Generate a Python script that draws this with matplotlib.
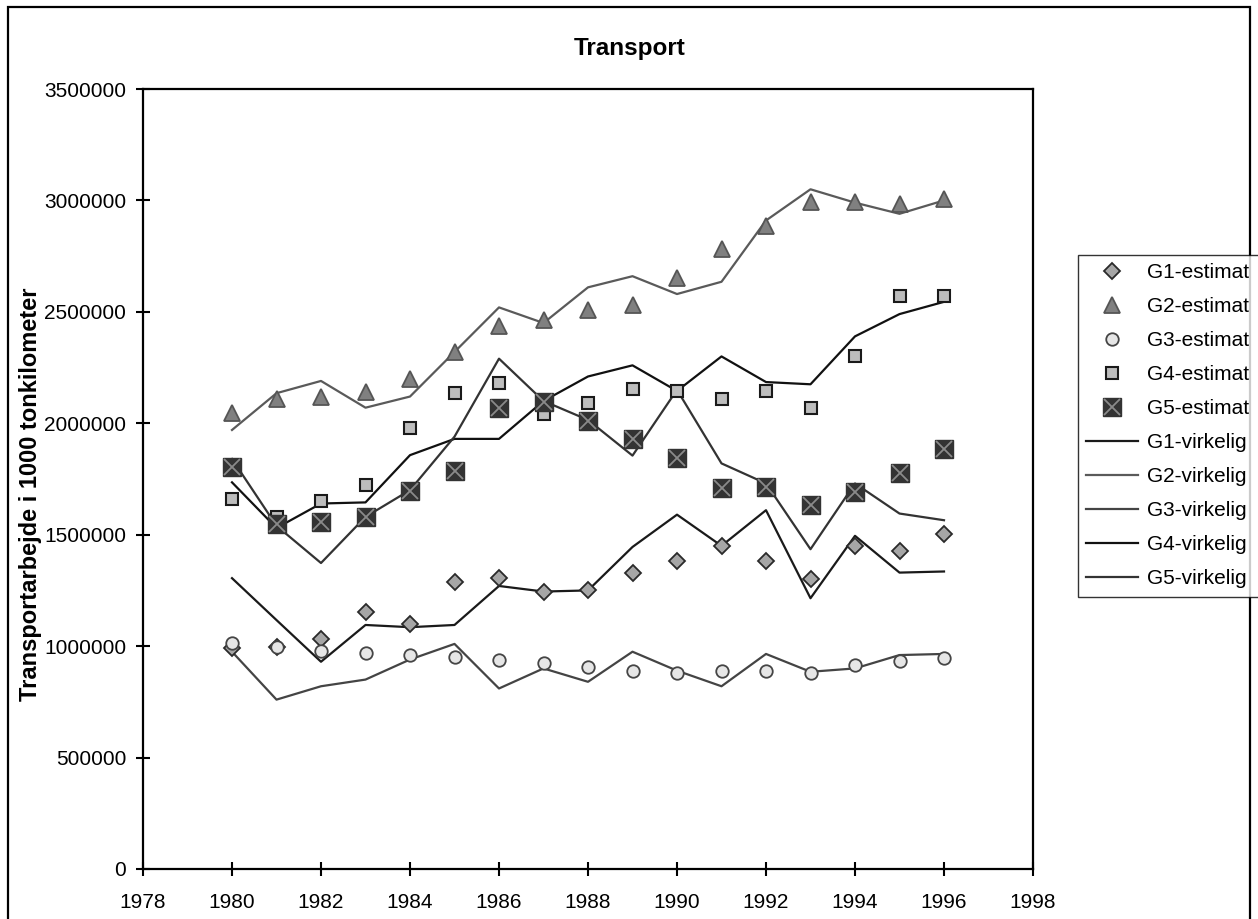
import matplotlib
matplotlib.use("Agg")
import matplotlib.pyplot as plt
from matplotlib.patches import Rectangle
from matplotlib.legend_handler import HandlerTuple

plt.rcParams['font.family'] = ['Liberation Sans', 'DejaVu Sans']

# data
years = list(range(1980, 1997))

g1_est = [990000, 995000, 1030000, 1155000, 1100000, 1290000, 1305000, 1245000, 1250000,
          1330000, 1380000, 1450000, 1380000, 1300000, 1450000, 1425000, 1505000]
g2_est = [2045000, 2110000, 2120000, 2140000, 2200000, 2320000, 2436000, 2463000, 2510000,
          2530000, 2650000, 2780000, 2885000, 2995000, 2995000, 2985000, 3005000]
g3_est = [1015000, 997000, 980000, 970000, 960000, 950000, 940000, 925000, 905000,
          890000, 880000, 890000, 890000, 880000, 915000, 935000, 945000]
g4_est = [1660000, 1580000, 1650000, 1725000, 1980000, 2135000, 2180000, 2040000, 2090000,
          2155000, 2145000, 2110000, 2145000, 2070000, 2300000, 2570000, 2570000]
g5_est = [1805000, 1550000, 1555000, 1580000, 1695000, 1785000, 2070000, 2095000, 2010000,
          1930000, 1845000, 1710000, 1715000, 1635000, 1690000, 1775000, 1885000]

g1_virk = [1305000, 1117000, 930000, 1095000, 1085000, 1095000, 1270000, 1245000, 1250000,
           1445000, 1590000, 1450000, 1610000, 1215000, 1495000, 1330000, 1335000]
g2_virk = [1970000, 2135000, 2190000, 2070000, 2120000, 2320000, 2520000, 2450000, 2610000,
           2660000, 2580000, 2635000, 2910000, 3050000, 2990000, 2940000, 3000000]
g3_virk = [975000, 760000, 820000, 850000, 940000, 1010000, 810000, 900000, 840000,
           975000, 890000, 820000, 965000, 885000, 900000, 960000, 965000]
g4_virk = [1735000, 1530000, 1640000, 1645000, 1857000, 1930000, 1930000, 2100000, 2210000,
           2260000, 2145000, 2300000, 2185000, 2175000, 2390000, 2490000, 2545000]
g5_virk = [1840000, 1540000, 1373000, 1580000, 1700000, 1940000, 2290000, 2100000, 2015000,
           1855000, 2150000, 1820000, 1730000, 1435000, 1730000, 1595000, 1565000]

fig = plt.figure(figsize=(12.58, 9.19), dpi=100)
ax = fig.add_axes([143/1258, 50/919, 890/1258, 780/919])

# lines (virkelig)
l1, = ax.plot(years, g1_virk, color='#1a1a1a', lw=1.6, zorder=2)
l2, = ax.plot(years, g2_virk, color='#5a5a5a', lw=1.6, zorder=2)
l3, = ax.plot(years, g3_virk, color='#444444', lw=1.6, zorder=2)
l4, = ax.plot(years, g4_virk, color='#111111', lw=1.6, zorder=2)
l5, = ax.plot(years, g5_virk, color='#333333', lw=1.6, zorder=2)

# markers (estimat)
m1, = ax.plot(years, g1_est, 'D', ms=8, mfc='#a6a6a6', mec='#2a2a2a', mew=1.3, ls='none', zorder=3)
m2, = ax.plot(years, g2_est, '^', ms=12, mfc='#808080', mec='#555555', mew=1.3, ls='none', zorder=3)
m3, = ax.plot(years, g3_est, 'o', ms=9, mfc='#e6e6e6', mec='#454545', mew=1.3, ls='none', zorder=3)
m4, = ax.plot(years, g4_est, 's', ms=8.5, mfc='#bdbdbd', mec='#1a1a1a', mew=1.5, ls='none', zorder=3)
m5a, = ax.plot(years, g5_est, 's', ms=13, mfc='#333333', mec='#333333', ls='none', zorder=4)
m5b, = ax.plot(years, g5_est, 'x', ms=11, mec='#8a8a8a', mew=1.3, ls='none', zorder=5)

ax.set_xlim(1978, 1998)
ax.set_ylim(0, 3500000)
ax.set_xticks(range(1978, 1999, 2))
ax.set_yticks(range(0, 3500001, 500000))
ax.ticklabel_format(style='plain', axis='y', useOffset=False)
ax.tick_params(direction='inout', length=10, width=1.5, labelsize=15)
ax.tick_params(axis='y', pad=7)
ax.tick_params(axis='x', pad=12)
for s in ax.spines.values():
    s.set_linewidth(1.6)

fig.text(630/1258, 1 - 48/919, 'Transport', fontsize=17.5, fontweight='bold',
         ha='center', va='center')
ax.set_ylabel('Transportarbejde i 1000 tonkilometer', fontsize=17, fontweight='bold')
ax.yaxis.set_label_coords(-0.113, 0.48)

handles = [m1, m2, m3, m4, (m5a, m5b), l1, l2, l3, l4, l5]
labels = ['G1-estimat ', 'G2-estimat ', 'G3-estimat ', 'G4-estimat ', 'G5-estimat ',
          'G1-virkelig', 'G2-virkelig', 'G3-virkelig', 'G4-virkelig', 'G5-virkelig']
leg = fig.legend(handles, labels, loc='upper left', bbox_to_anchor=(1078/1258, 1 - 255/919),
                 fontsize=15, frameon=True, fancybox=False, edgecolor='black',
                 handlelength=2.5, handletextpad=0.4, labelspacing=0.72, borderpad=0.4,
                 borderaxespad=0, handler_map={tuple: HandlerTuple(ndivide=1)})
leg.get_frame().set_linewidth(1.0)

# outer frame of the chart
fig.patches.append(Rectangle((8/1258, -0.01), 1242/1258, 1 - 7/919 + 0.01, transform=fig.transFigure,
                             fill=False, edgecolor='black', lw=1.6))

fig.savefig('out.png', dpi=100)
